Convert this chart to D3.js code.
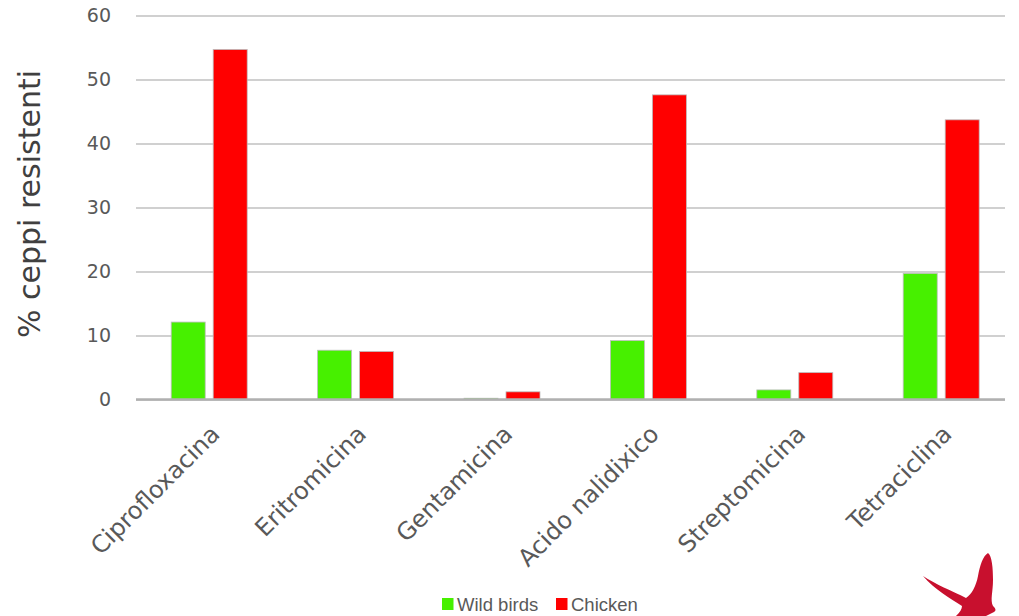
<!DOCTYPE html>
<html><head><meta charset="utf-8">
<script src="https://cdn.jsdelivr.net/npm/d3@7"></script>
<style>
html,body{margin:0;padding:0;background:#fff;}
svg{display:block;}
</style></head>
<body>
<script>
const categories = ["Ciprofloxacina","Eritromicina","Gentamicina","Acido nalidixico","Streptomicina","Tetraciclina"];
const seriesNames = ["Wild birds","Chicken"];
const wildBirds = [12.1, 7.7, 0.2, 9.2, 1.5, 19.7];
const chicken = [54.7, 7.5, 1.2, 47.6, 4.2, 43.7];
const yTicks = [0,10,20,30,40,50,60];
const colors = ["#47f000","#ff0000"];

const W=1019,H=616;
const m={left:136,right:14,top:15.5,bottom:216.5};
const svg=d3.select("body").append("svg").attr("width",W).attr("height",H);

const x=d3.scaleBand().domain(categories).range([136,1014.4]).paddingInner(0.481).paddingOuter(0.2405);
const xs=d3.scaleBand().domain(seriesNames).range([0,x.bandwidth()]).paddingInner(0.19);
const y=d3.scaleLinear().domain([0,60]).range([H-m.bottom,m.top]);

const comic="'Comic Sans MS','DejaVu Sans',sans-serif";

// gridlines
const yAxis=d3.axisLeft(y).tickValues(yTicks).tickSize(-(W-m.left-m.right)).tickPadding(25);
const gy=svg.append("g").attr("transform",`translate(${m.left},0)`).call(yAxis);
gy.select(".domain").remove();
gy.selectAll(".tick line").attr("stroke","#c0c0c0").attr("stroke-width",1.3);
gy.selectAll(".tick text").attr("fill","#595959").style("font-family","'DejaVu Sans',sans-serif").style("font-size","19px");

// bars
const data=categories.map((c,i)=>({c,vals:[wildBirds[i],chicken[i]]}));
const g=svg.append("g");
g.selectAll("g.grp").data(data).join("g").attr("class","grp")
 .attr("transform",d=>`translate(${x(d.c)},0)`)
 .selectAll("rect").data(d=>d.vals.map((v,j)=>({s:seriesNames[j],v,j})))
 .join("rect")
 .attr("x",d=>xs(d.s)).attr("width",xs.bandwidth())
 .attr("y",d=>y(d.v)).attr("height",d=>y(0)-y(d.v))
 .attr("fill",d=>colors[d.j]).attr("stroke","#bdbdbd").attr("stroke-width",0.8);

// baseline
const xAxis=d3.axisBottom(x).tickSize(0).tickPadding(0);
const gx=svg.append("g").attr("transform",`translate(0,${y(0)})`).call(xAxis);
gx.select(".domain").attr("stroke","#b0b0b0").attr("stroke-width",2.5).attr("d",`M${m.left},0H${W-m.right}`);
gx.selectAll(".tick text")
 .attr("fill","#595959").style("font-family",comic).style("font-size","24px")
 .attr("text-anchor","end").attr("dy","0")
 .attr("transform","translate(12,36) rotate(-45)");

// y title
svg.append("text").attr("transform",`translate(40,204) rotate(-90)`)
 .attr("text-anchor","middle").attr("fill","#404040")
 .style("font-family",comic).style("font-size","30px").text("% ceppi resistenti");

// legend
const leg=svg.append("g");
const legX=[442,556];
seriesNames.forEach((s,i)=>{
  leg.append("rect").attr("x",legX[i]).attr("y",598).attr("width",11.5).attr("height",12).attr("fill",colors[i]);
  leg.append("text").attr("x",legX[i]+15).attr("y",610.5).attr("fill","#595959")
   .style("font-family","'Liberation Sans',Arial,sans-serif").style("font-size","18.5px").text(s);
});

// bird logo
svg.append("path").attr("fill","#c8102e")
 .attr("d","M923,576 C935,584 952,591 966,598 C972,594 976,586 978,576 C980,565 983,556 988,553 C992,556 993,568 993,580 C993,592 990,600 993,606 C996,609 997,611 992,613 L986,616 L956,616 C960,612 962,609 962,606 C950,598 935,590 923,576 Z");
</script>
</body></html>
